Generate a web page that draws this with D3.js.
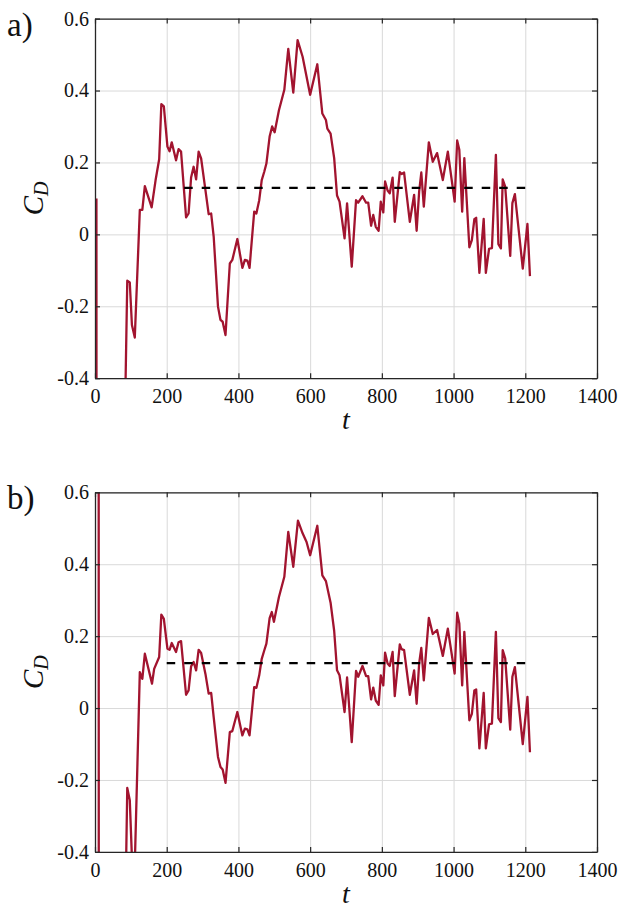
<!DOCTYPE html>
<html lang="en">
<head>
  <meta charset="UTF-8">
  <title>CD time series</title>
  <script src="https://cdn.jsdelivr.net/npm/d3@7"></script>
  <style>
    body { margin: 0; background: #fff; }
    text { font-family: "Liberation Serif", "DejaVu Serif", serif; fill: #111; }
  </style>
</head>
<body>
  <svg width="618" height="909" id="mainsvg"></svg>
  <script>
    // panel a)
    const tA = [4, 5, 82, 90, 97, 103, 111, 125, 132, 139, 158, 169, 179, 185, 192, 202, 208, 214, 226, 233,
      240, 254, 261, 268, 275, 282, 289, 296, 308, 317, 324, 331, 343, 350, 356, 364, 376, 383, 397, 411,
      418, 425, 431, 444, 450, 458, 465, 472, 478, 487, 494, 501, 513, 528, 539, 553, 565, 579, 600, 620,
      634, 644, 648, 657, 667, 675, 682, 696, 703, 716, 728, 734, 746, 756, 762, 770, 776, 783, 791, 797,
      804, 809, 816, 822, 830, 836, 850, 855, 862, 878, 890, 897, 904, 910, 917, 931, 942, 954, 970, 984,
      1003, 1010, 1016, 1024, 1030, 1044, 1051, 1058, 1063, 1072, 1084, 1090, 1099, 1107, 1118, 1125, 1132, 1137, 1144, 1158,
      1164, 1171, 1193, 1206, 1213]
    const cdA = [0.10, -3.0, -0.6, -0.129, -0.134, -0.252, -0.287, 0.068, 0.068, 0.134, 0.075, 0.151, 0.209, 0.362, 0.356, 0.244, 0.231, 0.256, 0.206, 0.237,
      0.230, 0.047, 0.058, 0.158, 0.188, 0.153, 0.230, 0.211, 0.123, 0.056, 0.058, -0.006, -0.201, -0.238, -0.243, -0.280, -0.081, -0.071, -0.013, -0.093,
      -0.071, -0.073, -0.093, 0.063, 0.058, 0.095, 0.151, 0.174, 0.197, 0.272, 0.300, 0.284, 0.345, 0.402, 0.516, 0.394, 0.540, 0.494, 0.388, 0.473,
      0.336, 0.318, 0.294, 0.280, 0.212, 0.108, 0.091, -0.011, 0.086, -0.090, 0.095, 0.088, 0.106, 0.088, 0.088, 0.024, 0.054, 0.021, 0.010, 0.091,
      0.061, 0.147, 0.122, 0.114, 0.158, 0.035, 0.173, 0.168, 0.172, 0.035, 0.110, 0.010, 0.119, 0.172, 0.077, 0.256, 0.202, 0.226, 0.151, 0.230,
      0.091, 0.261, 0.235, 0.063, 0.212, -0.036, -0.016, 0.042, 0.046, -0.107, 0.043, -0.107, -0.040, -0.038, 0.221, -0.027, -0.039, 0.153, 0.133, -0.060,
      0.087, 0.112, -0.095, 0.029, -0.116]
    const meanA = 0.129

    // panel b)
    const tB = [10, 11, 84, 90, 97, 108, 125, 132, 139, 159, 165, 179, 185, 192, 202, 208, 214, 226, 233, 240,
      254, 261, 268, 275, 282, 289, 296, 308, 317, 324, 331, 343, 350, 356, 364, 376, 383, 397, 411, 418,
      425, 431, 444, 450, 458, 465, 472, 478, 487, 493, 499, 513, 528, 539, 553, 566, 579, 590, 600, 620,
      634, 644, 657, 667, 675, 682, 696, 703, 716, 728, 734, 746, 756, 762, 770, 776, 783, 791, 797, 804,
      809, 816, 822, 830, 836, 850, 855, 862, 878, 890, 897, 904, 910, 917, 931, 942, 954, 970, 984, 1003,
      1010, 1016, 1024, 1030, 1044, 1051, 1058, 1063, 1072, 1084, 1090, 1099, 1107, 1118, 1125, 1132, 1137, 1144, 1158, 1164,
      1171, 1193, 1206, 1213]
    const cdB = [2.0, -3.0, -0.6, -0.222, -0.256, -0.55, 0.100, 0.081, 0.151, 0.068, 0.109, 0.142, 0.260, 0.248, 0.165, 0.162, 0.181, 0.156, 0.183, 0.186,
      0.037, 0.049, 0.116, 0.128, 0.105, 0.162, 0.153, 0.095, 0.040, 0.042, -0.025, -0.136, -0.164, -0.171, -0.208, -0.067, -0.064, -0.011, -0.076, -0.057,
      -0.059, -0.076, 0.058, 0.056, 0.091, 0.137, 0.160, 0.179, 0.250, 0.267, 0.240, 0.309, 0.365, 0.490, 0.393, 0.521, 0.486, 0.462, 0.425, 0.507,
      0.369, 0.353, 0.293, 0.215, 0.105, 0.091, -0.011, 0.085, -0.095, 0.103, 0.087, 0.117, 0.089, 0.089, 0.024, 0.057, 0.021, 0.009, 0.091, 0.063,
      0.154, 0.124, 0.117, 0.156, 0.033, 0.177, 0.164, 0.161, 0.037, 0.105, 0.012, 0.124, 0.167, 0.077, 0.251, 0.206, 0.217, 0.145, 0.221, 0.096,
      0.265, 0.235, 0.063, 0.212, -0.034, -0.016, 0.049, 0.052, -0.112, 0.042, -0.112, -0.045, -0.043, 0.212, -0.028, -0.039, 0.161, 0.138, -0.060, 0.087,
      0.114, -0.100, 0.031, -0.123]
    const meanB = 0.125

    const meanSpan = [200, 1200]
    const xTicks = [0, 200, 400, 600, 800, 1000, 1200, 1400]
    const xTickLabels = ['0', '200', '400', '600', '800', '1000', '1200', '1400']
    const yTicks = [-0.4, -0.2, 0, 0.2, 0.4, 0.6]
    const yTickLabels = ['-0.4', '-0.2', '0', '0.2', '0.4', '0.6']
    const panelLabels = ['a)', 'b)']

    const svg = d3.select('#mainsvg')
    const left = 95, right = 597, plotH = 359.6
    const tops = [18.6, 492.3]
    const lineColor = '#a2142f'
    const serif = '"Liberation Serif", "DejaVu Serif", serif'

    const xScale = d3.scaleLinear().domain([0, 1400]).range([left, right])

    const panels = [
      {t: tA, cd: cdA, mean: meanA, label: panelLabels[0], top: tops[0]},
      {t: tB, cd: cdB, mean: meanB, label: panelLabels[1], top: tops[1]}
    ]

    panels.forEach((p, i) => {
      const bottom = p.top + plotH
      const yScale = d3.scaleLinear().domain([-0.4, 0.6]).range([bottom, p.top])
      const g = svg.append('g')

      // grid
      g.append('g').attr('transform', `translate(0,${bottom})`)
        .call(d3.axisBottom(xScale).tickValues(xTicks).tickSize(-plotH).tickFormat(''))
        .call(a => a.select('.domain').remove())
        .selectAll('line').attr('stroke', '#d9d9d9').attr('stroke-width', 1)
      g.append('g').attr('transform', `translate(${left},0)`)
        .call(d3.axisLeft(yScale).tickValues(yTicks).tickSize(-(right - left)).tickFormat(''))
        .call(a => a.select('.domain').remove())
        .selectAll('line').attr('stroke', '#d9d9d9').attr('stroke-width', 1)

      // data line
      const clipId = 'clip' + i
      svg.append('clipPath').attr('id', clipId)
        .append('rect').attr('x', left).attr('y', p.top).attr('width', right - left).attr('height', plotH)

      const pts = p.t.map((t, k) => [t, p.cd[k]])
      g.append('path')
        .datum(pts)
        .attr('clip-path', `url(#${clipId})`)
        .attr('fill', 'none')
        .attr('stroke', lineColor)
        .attr('stroke-width', 2.3)
        .attr('stroke-linejoin', 'round')
        .attr('d', d3.line().x(d => xScale(d[0])).y(d => yScale(d[1])))

      // mean
      g.append('line')
        .attr('x1', xScale(meanSpan[0])).attr('x2', xScale(meanSpan[1]))
        .attr('y1', yScale(p.mean)).attr('y2', yScale(p.mean))
        .attr('stroke', '#000').attr('stroke-width', 2.2)
        .attr('stroke-dasharray', '8.5,9')

      // axes with inward ticks
      const styleAxis = a => {
        a.attr('font-family', serif).attr('font-size', 20)
        a.select('.domain').attr('stroke', '#262626').attr('stroke-width', 1.3)
        a.selectAll('.tick line').attr('stroke', '#262626').attr('stroke-width', 1.2)
        a.selectAll('text').style('font-family', serif).attr('font-size', 20).attr('fill', '#111')
      }
      g.append('g').attr('transform', `translate(0,${bottom})`)
        .call(d3.axisBottom(xScale).tickValues(xTicks).tickSizeInner(-5).tickSizeOuter(0).tickPadding(11)
          .tickFormat((d, k) => xTickLabels[k]))
        .call(styleAxis)
      g.append('g').attr('transform', `translate(0,${p.top})`)
        .call(d3.axisTop(xScale).tickValues(xTicks).tickSizeInner(-5).tickSizeOuter(0).tickFormat(''))
        .call(styleAxis)
      g.append('g').attr('transform', `translate(${left},0)`)
        .call(d3.axisLeft(yScale).tickValues(yTicks).tickSizeInner(-5).tickSizeOuter(0).tickPadding(6)
          .tickFormat((d, k) => yTickLabels[k]))
        .call(styleAxis)
      g.append('g').attr('transform', `translate(${right},0)`)
        .call(d3.axisRight(yScale).tickValues(yTicks).tickSizeInner(-5).tickSizeOuter(0).tickFormat(''))
        .call(styleAxis)

      // labels
      g.append('text').text(p.label)
        .attr('x', 7).attr('y', p.top + 17)
        .attr('font-size', 33)

      g.append('text')
        .attr('x', (left + right) / 2).attr('y', bottom + 51)
        .attr('text-anchor', 'middle')
        .attr('font-size', 28).attr('font-style', 'italic')
        .text('t')

      const yl = g.append('text')
        .attr('transform', `translate(43,${p.top + plotH / 2}) rotate(-90)`)
        .attr('text-anchor', 'middle')
        .attr('font-size', 29).attr('font-style', 'italic')
      yl.append('tspan').text('C')
      yl.append('tspan').text('D').attr('font-size', 20).attr('dy', 5)
    })
  </script>
</body>
</html>
